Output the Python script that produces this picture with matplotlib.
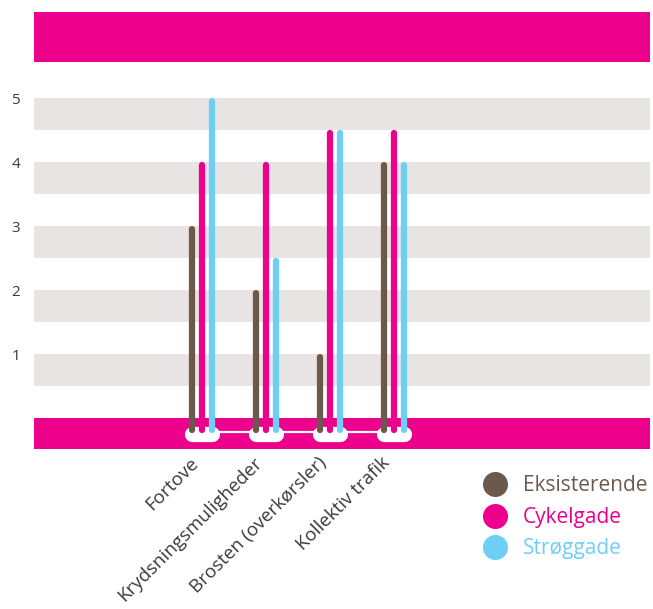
import matplotlib
matplotlib.use('Agg')
import matplotlib.pyplot as plt
import matplotlib.transforms as mtransforms
from matplotlib.lines import Line2D
import numpy as np

plt.rcParams['font.family'] = ['Open Sans', 'DejaVu Sans']

categories = ['Fortove', 'Krydsningsmuligheder', 'Brosten (overkørsler)', 'Kollektiv trafik']
series_names = ['Eksisterende', 'Cykelgade', 'Strøggade']
eksisterende = [3, 2, 1, 4]
cykelgade = [4, 4, 4.5, 4.5]
stroeggade = [5, 2.5, 4.5, 4]
yticks = [1, 2, 3, 4, 5]

BROWN = '#6b5a4c'
MAGENTA = '#ec008c'
BLUE = '#6dcff6'
GREY = '#e8e4e3'
TEXT = '#3a3a3a'

W, H = 653, 609
fig = plt.figure(figsize=(W / 100, H / 100), dpi=100)
ax = fig.add_axes([34 / W, 1 - 449 / H, 616 / W, 437 / H])
ax.set_xlim(-2.625, 7.0)
ax.set_ylim(-0.484, 6.344)

# background bands
ax.axhspan(5.56, 6.4, color=MAGENTA, lw=0, zorder=0)
ax.axhspan(-0.6, 0.0, color=MAGENTA, lw=0, zorder=0)
for v in yticks:
    ax.axhspan(v - 0.5, v, color=GREY, lw=0, zorder=0)

x = np.arange(len(categories))
off = 0.16
base = -0.25

# white connector + pills
ax.plot([x[0], x[-1]], [base + 0.03, base + 0.03], color='white', lw=1.6, zorder=1)
for xi in x:
    ax.plot([xi - off + 0.01, xi + off - 0.01], [base, base], color='white', lw=11,
            solid_capstyle='round', zorder=2)

series = [eksisterende, cykelgade, stroeggade]
colors = [BROWN, MAGENTA, BLUE]
for k, (vals, c) in enumerate(zip(series, colors)):
    xs = x + (k - 1) * off
    for xi, v in zip(xs, vals):
        ax.plot([xi, xi], [base + 0.06, v - 0.04], color=c, lw=4.5,
                solid_capstyle='round', zorder=3)

# category labels, rotated, hung just below the axes
ax.set_xticks([])
lab_tr = mtransforms.offset_copy(ax.get_xaxis_transform(), fig=fig, x=-13, y=-5, units='dots')
for xi, name in zip(x, categories):
    ax.text(xi, 0, name, transform=lab_tr, rotation=45, rotation_mode='anchor',
            ha='right', va='top', fontsize=13.5, color=TEXT)

ax.set_yticks(yticks)
ax.set_yticklabels([str(v) for v in yticks], fontsize=11, color=TEXT)
ax.tick_params(length=0)
ax.tick_params(axis='y', pad=10)
for s in ax.spines.values():
    s.set_visible(False)

handles = [Line2D([], [], ls='none', marker='o', markersize=17, color=c) for c in colors]
leg = ax.legend(handles, series_names, loc='upper left', bbox_to_anchor=(474 / W, 1 - 465 / H),
                bbox_transform=fig.transFigure, frameon=False, fontsize=15,
                handlelength=1.0, handletextpad=0.85, labelspacing=0.5, borderpad=0)
for t, c in zip(leg.get_texts(), colors):
    t.set_color(c)

fig.savefig('out.png', dpi=100)
